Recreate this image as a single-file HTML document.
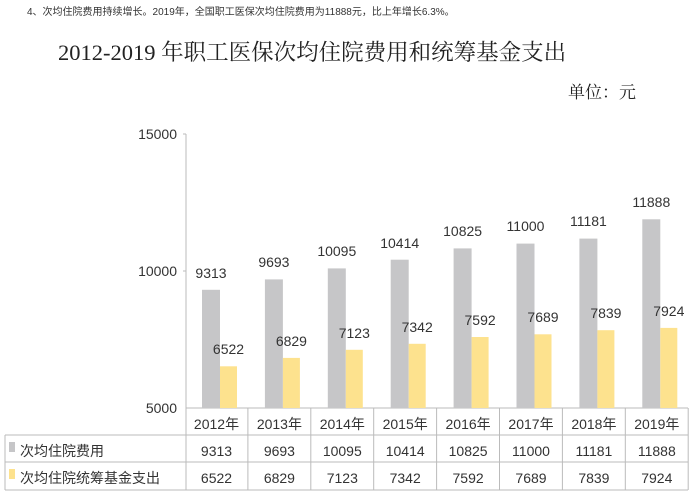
<!DOCTYPE html>
<html><head><meta charset="utf-8"><style>
body{margin:0;background:#fff;}
svg{display:block;font-family:"Liberation Sans","Noto Sans CJK SC",sans-serif;}
</style></head><body>
<svg width="700" height="500" viewBox="0 0 700 500" xmlns="http://www.w3.org/2000/svg">
<text x="27" y="15" font-size="10" fill="#333">4、次均住院费用持续增长。2019年，全国职工医保次均住院费用为11888元，比上年增长6.3%。</text>
<text x="58" y="60" font-size="22.5" fill="#222" font-family="'Liberation Serif','Noto Serif CJK SC',serif">2012-2019 年职工医保次均住院费用和统筹基金支出</text>
<text x="568" y="98" font-size="17" fill="#222" font-family="'Liberation Serif','Noto Serif CJK SC',serif">单位：元</text>
<g font-size="14" fill="#333" text-anchor="end">
<text x="177" y="139">15000</text>
<text x="177" y="276">10000</text>
<text x="177" y="413">5000</text>
</g>
<g stroke="#bbb">
<line x1="186" y1="134" x2="186" y2="490"/>
<line x1="183" y1="134" x2="186" y2="134"/>
<line x1="183" y1="271" x2="186" y2="271"/>
<line x1="186" y1="408" x2="688" y2="408"/>
<line x1="5" y1="435" x2="688" y2="435"/>
<line x1="5" y1="462" x2="688" y2="462"/>
<line x1="5" y1="490" x2="688" y2="490"/>
<line x1="5" y1="435" x2="5" y2="490"/>
<line x1="247.9" y1="408" x2="247.9" y2="490"/>
<line x1="310.8" y1="408" x2="310.8" y2="490"/>
<line x1="373.7" y1="408" x2="373.7" y2="490"/>
<line x1="436.6" y1="408" x2="436.6" y2="490"/>
<line x1="499.5" y1="408" x2="499.5" y2="490"/>
<line x1="562.4" y1="408" x2="562.4" y2="490"/>
<line x1="625.3" y1="408" x2="625.3" y2="490"/>
<line x1="688.2" y1="408" x2="688.2" y2="490"/>
</g>
<g fill="#c6c6c8">
<rect x="202" y="289.8" width="18" height="118.2"/>
<rect x="264.9" y="279.4" width="18" height="128.6"/>
<rect x="327.8" y="268.4" width="18" height="139.6"/>
<rect x="390.7" y="259.7" width="18" height="148.3"/>
<rect x="453.6" y="248.4" width="18" height="159.6"/>
<rect x="516.5" y="243.6" width="18" height="164.4"/>
<rect x="579.4" y="238.6" width="18" height="169.4"/>
<rect x="642.3" y="219.3" width="18" height="188.7"/>
</g>
<g fill="#fde28e">
<rect x="220" y="366.3" width="17" height="41.7"/>
<rect x="282.9" y="357.9" width="17" height="50.1"/>
<rect x="345.8" y="349.8" width="17" height="58.2"/>
<rect x="408.7" y="343.8" width="17" height="64.2"/>
<rect x="471.6" y="337" width="17" height="71"/>
<rect x="534.5" y="334.3" width="17" height="73.7"/>
<rect x="597.4" y="330.2" width="17" height="77.8"/>
<rect x="660.3" y="327.9" width="17" height="80.1"/>
</g>
<g font-size="14" fill="#333" text-anchor="middle">
<text x="211" y="278">9313</text>
<text x="273.9" y="267">9693</text>
<text x="336.8" y="256">10095</text>
<text x="399.7" y="248">10414</text>
<text x="462.6" y="236">10825</text>
<text x="525.5" y="231">11000</text>
<text x="588.4" y="226">11181</text>
<text x="651.3" y="207">11888</text>
<text x="228.5" y="354">6522</text>
<text x="291.4" y="346">6829</text>
<text x="354.3" y="338">7123</text>
<text x="417.2" y="332">7342</text>
<text x="480.1" y="325">7592</text>
<text x="543" y="322">7689</text>
<text x="605.9" y="318">7839</text>
<text x="668.8" y="316">7924</text>
<text x="216.5" y="429">2012年</text>
<text x="279.4" y="429">2013年</text>
<text x="342.3" y="429">2014年</text>
<text x="405.2" y="429">2015年</text>
<text x="468.1" y="429">2016年</text>
<text x="531" y="429">2017年</text>
<text x="593.9" y="429">2018年</text>
<text x="656.8" y="429">2019年</text>
<text x="216.5" y="456">9313</text>
<text x="279.4" y="456">9693</text>
<text x="342.3" y="456">10095</text>
<text x="405.2" y="456">10414</text>
<text x="468.1" y="456">10825</text>
<text x="531" y="456">11000</text>
<text x="593.9" y="456">11181</text>
<text x="656.8" y="456">11888</text>
<text x="216.5" y="483">6522</text>
<text x="279.4" y="483">6829</text>
<text x="342.3" y="483">7123</text>
<text x="405.2" y="483">7342</text>
<text x="468.1" y="483">7592</text>
<text x="531" y="483">7689</text>
<text x="593.9" y="483">7839</text>
<text x="656.8" y="483">7924</text>
</g>
<rect x="9" y="442" width="6" height="10" fill="#c6c6c8"/>
<text x="20" y="456" font-size="14" fill="#333">次均住院费用</text>
<rect x="9" y="469" width="6" height="10" fill="#fde28e"/>
<text x="20" y="483" font-size="14" fill="#333">次均住院统筹基金支出</text>
</svg>
</body></html>
